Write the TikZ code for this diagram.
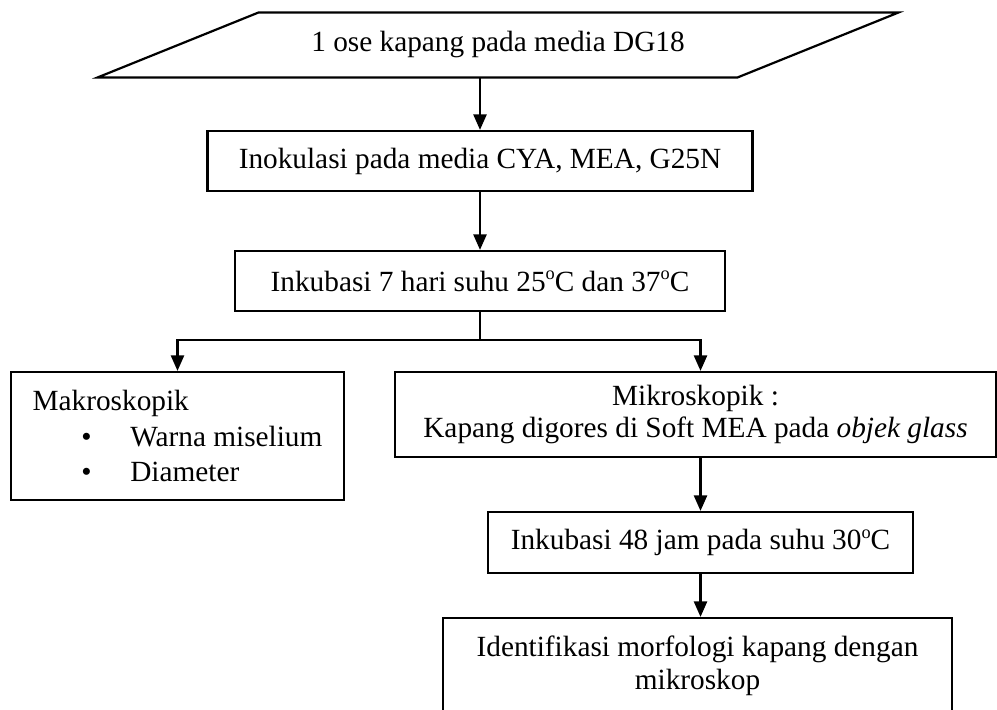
\documentclass[tikz,border=0pt]{standalone}
\usepackage{fontspec}
\setmainfont{Liberation Serif}
\usetikzlibrary{arrows.meta}

\newcommand{\px}{0.4096pt}
\newcommand{\derajat}{\raisebox{0.85ex}{\fontsize{7.5pt}{8pt}\selectfont o}C}

\tikzset{
  kotak/.style={draw, rectangle, line width=0.9pt, inner sep=0pt, align=center},
  masukan/.style={rectangle, inner sep=0pt, align=center},
  garis/.style={line width=0.9pt},
  panah/.style={line width=0.9pt, -{Triangle[length=6.4pt, width=5.4pt]}},
}

\begin{document}
\begin{tikzpicture}[x=\px, y=-\px, font=\fontsize{12pt}{13.5pt}\selectfont]

            \clip (0,0) rectangle (997,710);

            \node[masukan, minimum width=639*\px, minimum height=64*\px] (bahan) at (498,45) {1 ose kapang pada media DG18};
            \draw[garis] ([xshift=-80.5*\px]bahan.south west) -- ([xshift=-80.5*\px]bahan.south east)
                      -- ([xshift=80.5*\px]bahan.north east) -- ([xshift=80.5*\px]bahan.north west) -- cycle;

            \node[kotak, minimum width=545*\px, minimum height=60*\px] (inok) at (480,161) {Inokulasi pada media CYA, MEA, G25N};
            \node[kotak, minimum width=490*\px, minimum height=60*\px] (inkub) at (480,281) {Inkubasi 7 hari suhu 25\derajat{} dan 37\derajat};

            \coordinate (cabang) at (480,340);

            \node[kotak, minimum width=333*\px, minimum height=128*\px, align=left,
                  font=\fontsize{12pt}{14.5pt}\selectfont] (makro) at (177.5,436)
                  {Makroskopik\\
                   \hspace*{20pt}\makebox[20pt][l]{\textbullet}Warna miselium\\
                   \hspace*{20pt}\makebox[20pt][l]{\textbullet}Diameter};
            \node[kotak, minimum width=601*\px, minimum height=85*\px] (mikro) at (695.5,414.5)
                  {Mikroskopik :\\ Kapang digores di Soft MEA pada \textit{objek glass}};
            \node[kotak, minimum width=425*\px, minimum height=61*\px] (inkub2) at (700.5,542.5) {Inkubasi 48 jam pada suhu 30\derajat};
            \node[kotak, minimum width=509*\px, minimum height=96*\px] (ident) at (697.5,666)
                  {Identifikasi morfologi kapang dengan\\ mikroskop};

            \draw[panah] (bahan.south -| inok.north) -- (inok.north); %
            \draw[panah] (inok.south) -- (inkub.north); %
            \draw[garis] (inkub.south) -- (cabang); %
            \draw[panah] (cabang) -| (makro.north); %
            \draw[panah] (cabang) -| (mikro.north -| inkub2.north); %
            \draw[panah] (mikro.south -| inkub2.north) -- (inkub2.north); %
            \draw[panah] (inkub2.south) -- (inkub2.south |- ident.north); %

\end{tikzpicture}
\end{document}
